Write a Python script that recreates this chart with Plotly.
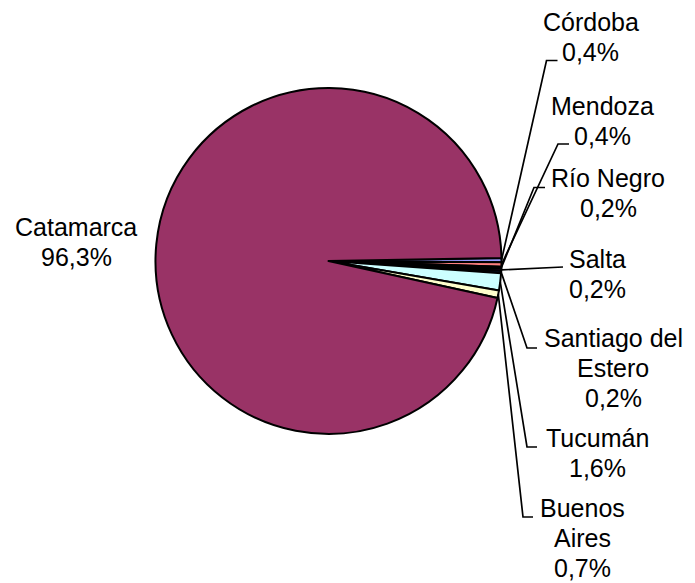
import math
import plotly.graph_objects as go

# ---- data ----
provinces = ["Córdoba", "Mendoza", "Río Negro", "Salta",
             "Santiago del Estero", "Tucumán", "Buenos Aires", "Catamarca"]
shares = [0.4, 0.4, 0.2, 0.2, 0.2, 1.6, 0.7, 96.3]
name_lines = [["Córdoba"], ["Mendoza"], ["Río Negro"], ["Salta"],
              ["Santiago del", "Estero"], ["Tucumán"], ["Buenos", "Aires"], ["Catamarca"]]
colors = ["#9999FF", "#FF8080", "#000080", "#660066", "#003366",
          "#CCFFFF", "#FFFFCC", "#993366"]

# ---- layout constants (page pixels; page body has an 8px margin) ----
OFF = 8
W, H = 695 - OFF, 583 - OFF
CX, CY, R = 328.5, 261.0, 173.0
ROT = 89.0
FS = 25
LS = 29.7
FONT = "Liberation Sans, Arial, sans-serif"

# label placement: center x, first baseline, elbow (x, y), end x  (None => no leader)
label_pos = [
    (590.5, 31, (546.5, 60.5), 557.5),
    (602, 115, (558, 144), 569),
    (608, 187, (534, 187.5), 545),
    (597, 268, (563, 267), 563),
    (613, 347, (527, 348), 537),
    (597, 447, (527, 447), 537),
    (582, 517, (523, 517), 533),
    (76, 236, None, None),
]


def px(x):
    return (x - OFF) / W


def py(y):
    return 1 - (y - OFF) / H


fig = go.Figure(go.Pie(
    labels=provinces, values=shares, sort=False, direction="clockwise",
    rotation=ROT, textinfo="none", hoverinfo="label+percent",
    marker=dict(colors=colors, line=dict(color="black", width=2)),
    domain=dict(x=[px(CX - R), px(CX + R)], y=[py(CY + R), py(CY - R)]),
    showlegend=False,
))

annotations = []
shapes = []
total = sum(shares)
cum = 0.0
for name, lines, val, pos in zip(provinces, name_lines, shares, label_pos):
    mid = ROT + (cum + val / 2) / total * 360.0
    cum += val
    cx_, base1, elbow, endx = pos
    txt = lines + [f"{val:.1f}".replace(".", ",") + "%"]
    for i, t in enumerate(txt):
        base = base1 + i * LS
        annotations.append(dict(
            x=px(cx_), y=py(base - 8.6), xref="paper", yref="paper",
            text=t, showarrow=False, xanchor="center", yanchor="middle",
            font=dict(family=FONT, size=FS, color="black")))
    if elbow is not None:
        rx = CX + R * math.sin(math.radians(mid))
        ry = CY - R * math.cos(math.radians(mid))
        path = (f"M {px(rx)} {py(ry)} L {px(elbow[0])} {py(elbow[1])} "
                f"L {px(endx)} {py(elbow[1])}")
        shapes.append(dict(type="path", xref="paper", yref="paper", path=path,
                           line=dict(color="black", width=1.7)))

fig.update_layout(
    width=W, height=H, margin=dict(l=0, r=0, t=0, b=0),
    paper_bgcolor="white", plot_bgcolor="white",
    annotations=annotations, shapes=shapes,
    font=dict(family=FONT),
)
fig.write_html("out.html")
